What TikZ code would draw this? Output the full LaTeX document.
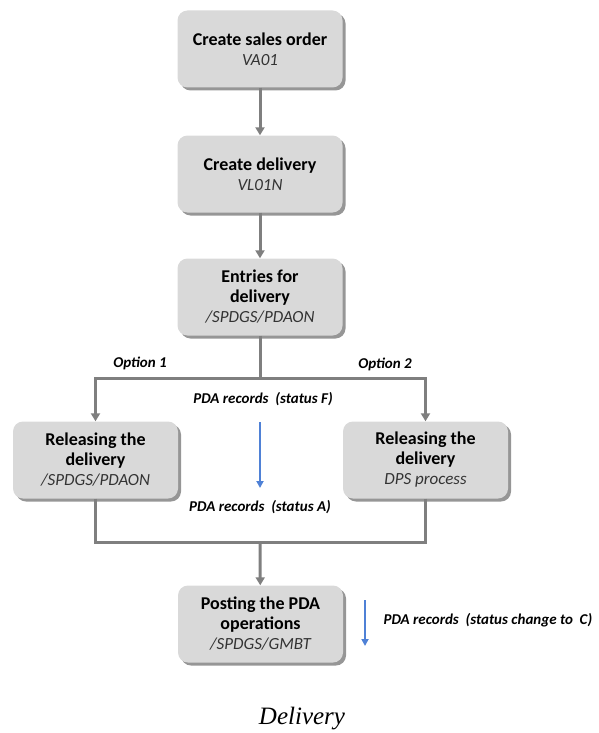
\documentclass[tikz,border=0pt]{standalone}
\usepackage{fontspec}
\setmainfont{Carlito}
\newfontfamily\captionfont{Liberation Serif}
\usetikzlibrary{arrows.meta,shadows}
\definecolor{boxgray}{HTML}{D9D9D9}
\definecolor{linegray}{HTML}{7F7F7F}
\definecolor{recblue}{HTML}{4F81D6}
\newcommand{\txcode}[1]{{\fontsize{17}{20}\selectfont\mdseries\itshape\color{black!80}#1}}

\begin{document}
\begin{tikzpicture}[x=1pt,y=-1pt,
  stepbox/.style={fill=boxgray,rounded corners=10pt,minimum width=165pt,minimum height=77pt,
    align=center,font=\fontsize{18}{20}\selectfont\bfseries,
    drop shadow={shadow xshift=3pt,shadow yshift=-3pt,fill=black!55,opacity=.75}},
  flow/.style={draw=linegray,line width=3pt},
  flowarrow/.style={flow,-{Triangle[width=9pt,length=8pt]}},
  recarrow/.style={draw=recblue,line width=2pt,-{Triangle[width=7pt,length=7pt]}},
  lbl/.style={font=\fontsize{15}{17}\selectfont\bfseries\itshape}]
  \useasboundingbox (0,0) rectangle (598,733);
  % process steps
  \node[stepbox] (order) at (260,49) {Create sales order\\\txcode{VA01}};
  \node[stepbox] (delivery) at (260,174) {Create delivery\\\txcode{VL01N}};
  \node[stepbox] (entries) at (260,297) {Entries for\\delivery\\\txcode{/SPDGS/PDAON}};
  \node[stepbox] (release1) at (95.5,460) {Releasing the\\delivery\\\txcode{/SPDGS/PDAON}};
  \node[stepbox] (release2) at (425.5,460) {Releasing the\\delivery\\\txcode{DPS process}};
  \node[stepbox] (posting) at (260.5,624) {Posting the PDA\\operations\\\txcode{/SPDGS/GMBT}};
  \coordinate (split) at (260,378);
  \coordinate (join) at (260,542);
  % connectors
  \draw[flowarrow] (order) -- (delivery);
  \draw[flowarrow] (delivery) -- (entries);
  \draw[flow] (entries) -- (split);
  \draw[flowarrow] (split) -| (release1);
  \draw[flowarrow] (split) -| (release2);
  \draw[flow] (release1) |- (join);
  \draw[flow] (release2) |- (join);
  \draw[flowarrow] (join) -- (posting);
  % labels
  \node[lbl] (opt1) at (140,363) {Option 1};
  \node[lbl] (opt2) at (385,364) {Option 2};
  \node[lbl] (statF) at (263,399) {PDA records\ \ (status F)};
  \node[lbl] (statA) at (260,507) {PDA records\ \ (status A)};
  \node[lbl,anchor=west] (statC) at (380,620) {PDA records\ \ (status change to\ \ C)};
  % status changes
  \coordinate (fa) at (260,422);
  \coordinate (fb) at (260,488);
  \coordinate (ca) at (365,600);
  \coordinate (cb) at (365,646);
  \draw[recarrow] (fa) -- (fb);
  \draw[recarrow] (ca) -- (cb);
  \node[font=\captionfont\fontsize{25}{28}\selectfont\itshape] (title) at (302,719) {Delivery};
\end{tikzpicture}
\end{document}
